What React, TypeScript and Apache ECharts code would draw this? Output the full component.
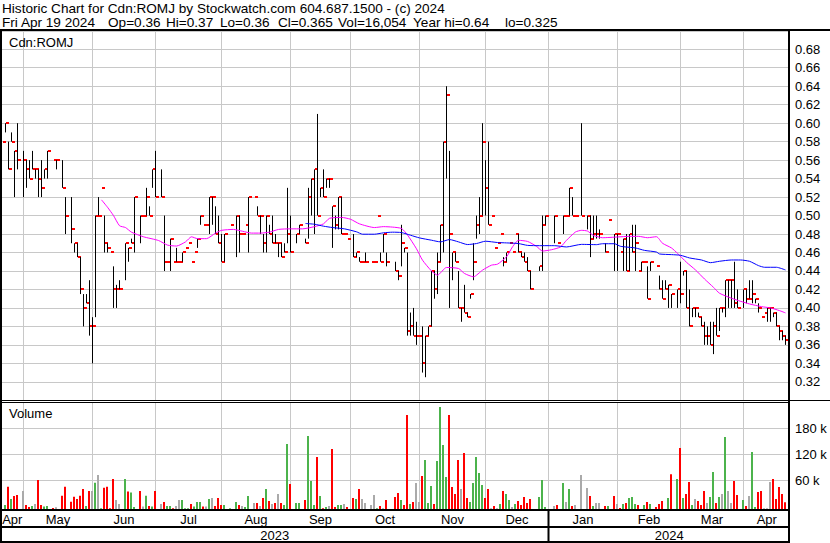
import React, { useEffect, useRef } from "react";
import * as echarts from "echarts";

const FONT = '"Liberation Sans", Arial, sans-serif';

// one slot per weekday, slot 0 = Thu Apr 20 2023, slot 261 = Fri Apr 19 2024
const monthNames = ["Apr", "May", "Jun", "Jul", "Aug", "Sep", "Oct", "Nov", "Dec", "Jan", "Feb", "Mar", "Apr"];
const monthStartSlots = [7, 30, 51, 73, 96, 116, 139, 161, 182, 205, 226, 247];
const yearNames = ["2023", "2024"];
const yearStartSlots = [182];
const SLOT_COUNT = 262;

const highs: (number | null)[] = [
  .58, .60, .58, .59, .57, .60, null, .57, .56, .56,
  .57, .55, .55, .56, .55, .57, null, .56, .56, null,
  .56, .52, null, .52, .47, .47, .455, .415, .415, .43,
  .39, .50, .52, .53, .50, .47, .46, .445, .425, .43,
  null, .47, .465, .475, .52, null, .50, .50, .53, .51,
  .55, .57, null, .55, .50, .45, .475, .45, .465, .45,
  .46, .465, .47, .45, .46, .475, .50, .49, .49, .52,
  .52, .51, .50, .48, .48, null, .49, null, .50, .50,
  .48, .49, .52, null, .52, .51, .50, .48, .50, .49,
  .50, .48, .47, .47, .47, .53, .50, null, .48, .49,
  null, .475, .53, .54, .55, .61, .53, .55, .54, .54,
  .51, .50, .52, .52, .48, .475, null, .48, .46, .455,
  .45, .46, null, .45, .45, .50, .46, .48, .46, null,
  null, .45, .44, .49, .465, .46, .395, .40, .385, .37,
  .38, .37, .38, .44, .44, .46, .49, .58, .64, .57,
  .46, .46, .44, .40, .425, .395, .415, .47, .50, .52,
  .60, .56, .58, .50, .465, .47, .48, .455, .46, .47,
  .46, .48, .48, .46, .46, .455, .44, null, null, .445,
  .50, .50, null, null, .50, .47, null, .50, .50, .53,
  .52, .50, null, .60, null, .50, .50, .50, .50, .485,
  null, .47, .495, null, .48, .48, .46, .475, .48, .48,
  .49, .49, .44, .45, .45, .445, .45, null, .445, .435,
  .43, .43, .425, .415, null, .42, .45, .44, .44, .42,
  .40, .40, .395, .39, .385, .38, .385, .385, .40, .40,
  .40, .43, .43, .43, .45, .42, null, .42, .42, .43,
  .43, .41, .405, .39, .395, .40, .40, .395, .395, .38,
  .375, .37,
];

const lows: (number | null)[] = [
  .58, .59, .55, .58, .52, .55, null, .52, .53, .54,
  .55, .54, .52, .52, .54, .54, null, .56, .55, null,
  .53, .48, null, .47, .46, .455, .415, .38, .405, .37,
  .34, .39, .50, .53, .46, .46, .46, .40, .40, .42,
  null, .43, .45, .47, .46, null, .47, .50, .50, .50,
  .53, .52, null, .52, .44, .45, .44, .45, .45, .45,
  .45, .465, .47, .45, .46, .465, .49, .49, .49, .48,
  .49, .48, .47, .45, .45, null, .49, null, .455, .46,
  .48, .49, .46, null, .52, .50, .48, .46, .46, .48,
  .47, .47, .455, .455, .46, .47, .46, null, .47, .48,
  null, .47, .475, .50, .48, .50, .52, .52, .53, .53,
  .465, .485, .485, .48, .48, .475, null, .455, .455, .45,
  .45, .45, null, .45, .45, .50, .45, .46, .445, null,
  null, .44, .43, .445, .46, .37, .37, .37, .36, .37,
  .33, .325, .37, .38, .41, .415, .45, .46, .54, .40,
  .43, .45, .40, .385, .395, .39, .41, .43, .475, .48,
  .50, .50, .49, .50, .465, .47, .48, .445, .45, .47,
  .46, .48, .46, .455, .45, .44, .42, null, null, .44,
  .44, .49, null, null, .47, .47, null, .48, .50, .50,
  .50, .50, null, .50, null, .485, .455, .475, .475, .475,
  null, .46, .495, null, .44, .44, .46, .44, .44, .44,
  .46, .44, .44, .44, .45, .41, .44, null, .445, .42,
  .41, .42, .40, .40, null, .40, .405, .435, .40, .38,
  .39, .39, .39, .38, .36, .36, .36, .35, .37, .375,
  .395, .39, .40, .40, .40, .40, null, .40, .405, .41,
  .405, .405, .395, .39, .395, .385, .385, .39, .38, .365,
  .365, .36,
];

const closes: (number | null)[] = [
  .58, .60, .55, .58, .57, .56, null, .56, .55, .54,
  .55, .55, .54, .53, .55, .57, null, .56, .56, null,
  .53, .50, null, .485, .47, .455, .42, .40, .405, .38,
  .38, .50, .50, .53, .47, .465, .46, .42, .42, .42,
  null, .47, .465, .47, .52, null, .50, .50, .52, .50,
  .55, .52, null, .52, .45, .45, .475, .45, .45, .45,
  .46, .465, .47, .45, .46, .475, .50, .49, .49, .52,
  .52, .48, .47, .45, .48, null, .49, null, .50, .48,
  .48, .49, .52, null, .52, .50, .50, .47, .50, .48,
  .47, .47, .47, .455, .46, .48, .46, null, .48, .49,
  null, .47, .52, .54, .55, .50, .53, .52, .54, .54,
  .51, .49, .52, .48, .48, .475, null, .455, .46, .45,
  .45, .45, null, .45, .45, .50, .45, .48, .45, null,
  null, .44, .435, .47, .465, .375, .38, .37, .37, .37,
  .34, .37, .38, .44, .42, .45, .49, .58, .63, .48,
  .46, .45, .40, .40, .395, .39, .415, .45, .49, .50,
  .58, .53, .49, .50, .465, .47, .48, .45, .46, .47,
  .46, .48, .46, .455, .45, .44, .42, null, null, .445,
  .49, .50, null, null, .50, .47, null, .50, .50, .53,
  .50, .50, null, .50, null, .50, .475, .48, .48, .48,
  null, .46, .495, null, .48, .48, .46, .475, .44, .48,
  .46, .47, .44, .45, .45, .41, .45, null, .445, .42,
  .41, .42, .425, .415, null, .42, .415, .44, .40, .38,
  .40, .40, .39, .38, .37, .37, .36, .38, .37, .40,
  .40, .43, .43, .43, .405, .40, null, .42, .41, .41,
  .415, .41, .40, .39, .395, .40, .40, .395, .38, .375,
  .37, .365,
];

// daily volume, thousands of shares
const volumes: number[] = [
  0, 10, 52.3, 23.8, 30.8, 33.1, 0, 42.3, 10, 5.4,
  7.7, 12.3, 67.7, 10, 6.2, 7.7, 0, 3.1, 4.6, 0,
  31.5, 52.3, 0, 17.7, 29.2, 23.8, 31.5, 46.9, 7.7, 42.3,
  42.3, 61.5, 79.2, 2.3, 50, 52.3, 2.3, 70, 21.5, 12.3,
  0, 70, 40.8, 38.5, 5.4, 0, 42.3, 6.2, 31.5, 7.7,
  6.2, 42.3, 0, 12.3, 16.9, 7.7, 7.7, 2.3, 7.7, 21.5,
  21.5, 2.3, 2.3, 12.3, 6.2, 16.9, 16.9, 6.2, 6.2, 23.8,
  26.2, 7.7, 26.2, 10, 10, 0, 2.3, 0, 16.9, 10,
  7.7, 5.4, 30.8, 0, 14.6, 14.6, 7.7, 26.2, 46.9, 19.2,
  12.3, 14.6, 35.4, 14.6, 10, 150.8, 58.5, 0, 14.6, 14.6,
  0, 21.5, 169.2, 65.4, 10, 120.8, 30.8, 2.3, 5.4, 7.7,
  139.2, 5.4, 10, 10, 12.3, 5.4, 0, 26.2, 23.8, 46.9,
  23.8, 14.6, 0, 10, 33.1, 2.3, 7.7, 2.3, 21.5, 0,
  0, 28.5, 37.7, 21.5, 10, 217.7, 12.3, 16.9, 60.8, 16.9,
  76.9, 113.8, 14.6, 53.8, 12.3, 111.5, 236.1, 148.5, 74.6, 217.7,
  51.5, 35.4, 113.8, 46.9, 130, 26.2, 16.9, 60.8, 120.8, 83.8,
  56.2, 26.2, 46.9, 2.3, 7.7, 2.3, 12.3, 42.3, 35.4, 21.5,
  5.4, 12.3, 19.2, 10, 28.5, 14.6, 23.8, 0, 0, 28.5,
  67.7, 5.4, 0, 0, 7.7, 10, 0, 60.8, 16.9, 46.9,
  7.7, 10, 0, 79.2, 0, 49.2, 30.8, 7.7, 14.6, 14.6,
  0, 7.7, 7.7, 0, 30.8, 12.3, 3.1, 12.3, 14.6, 26.2,
  28.5, 12.3, 10, 0, 10, 16.9, 12.3, 0, 5.4, 12.3,
  19.2, 0, 26.2, 80.8, 0, 70, 141.5, 26.2, 35.4, 63.1,
  10, 23.8, 19.2, 10, 42.3, 14.6, 28.5, 86.2, 14.6, 28.5,
  35.4, 166.9, 42.3, 14.6, 65.4, 33.1, 0, 21.5, 7.7, 30.8,
  132.3, 5.4, 40, 42.3, 2.3, 2.3, 63.1, 70, 23.8, 51.5,
  35.4, 16.1,
];

// u = up day, d = down day, n = unchanged, - = no trade
const volumeDirection: string[] = (
  "nududd-ndd" + "undduu-dn-" + "dd-dddddud" + "nunuddddnn" + "-uduu-dnud" +
  "ud-nduudnn" + "uuuduuudnu" + "ndddu-u-ud" + "nuu-ndndud" + "ndnduud-uu" +
  "-duuududun" + "dduund-dud" + "nn-nnudnd-" + "-dduddudnn" + "duuuduuuud" +
  "dddndduuuu" + "uddndnuduu" + "nuddddd--u" + "uu--nd-unu" + "dn-n-ndunn" +
  "-du-dndudu" + "uud-udu-dd" + "d-ud-ududd" + "undddnuudu" + "nunndd-udn" +
  "uuddnnnddd" + "dd"
).split("");

// moving averages: [slot, price]
const shortMA: [number, number][] = [
  [33, .517], [35, .509], [37, .500], [39, .489], [41, .487], [43, .482], [47, .477], [52, .473],
  [55, .468], [58, .467], [61, .4715], [63, .477], [65, .475], [68, .475], [71, .481], [73, .484],
  [77, .485], [80, .483], [83, .481], [86, .481], [89, .482], [92, .485], [96, .4856], [100, .4856],
  [104, .488], [107, .491], [109, .497], [113, .498], [116, .496], [119, .491], [124, .487], [127, .488],
  [130, .4875], [133, .486], [135, .479], [138, .464], [140, .4517], [143, .44], [145, .4355], [148, .4438],
  [152, .4427], [154, .4373], [157, .4337], [160, .4409], [163, .4463], [165, .4474], [168, .4553], [170, .4661],
  [172, .4732], [175, .472], [178, .4667], [180, .4616], [183, .463], [186, .466], [188, .4732], [191, .4822],
  [193, .484], [195, .4832], [197, .4785], [200, .476], [205, .4768], [209, .4775], [212, .4775], [215, .476],
  [218, .4771], [220, .47], [223, .4649], [225, .4591], [228, .4494], [231, .4411], [234, .4313], [237, .4223],
  [239, .4159], [243, .4105], [246, .4072], [249, .4043], [253, .4014], [256, .40], [259, .3971], [261, .3946],
];

const longMA: [number, number][] = [
  [101, .4914], [104, .4906], [107, .4885], [110, .487], [114, .4856], [118, .4824], [120, .4798], [124, .4798],
  [127, .4813], [130, .482], [133, .4816], [136, .4787], [139, .4758], [143, .4733], [146, .4715], [149, .474],
  [152, .4715], [155, .4686], [158, .4697], [161, .4722], [165, .4708], [168, .4704], [172, .4697], [175, .4677],
  [179, .4674], [184, .4674], [188, .466], [193, .4688], [198, .4685], [200, .4695], [204, .4695], [206, .4667],
  [211, .4649], [214, .4623], [218, .4605], [219, .4584], [223, .4577], [226, .457], [229, .4541], [233, .4519],
  [236, .449], [239, .4505], [243, .4519], [246, .4519], [249, .4505], [252, .4458], [254, .444], [258, .444],
  [261, .4411],
];

const headerLine1 = "Historic Chart for Cdn:ROMJ by Stockwatch.com 604.687.1500 - (c) 2024";
const headerFields = ["Fri Apr 19 2024", "Op=0.36", "Hi=0.37", "Lo=0.36", "Cl=0.365", "Vol=16,054", "Year hi=0.64", "lo=0.325"];
const symbolLabel = "Cdn:ROMJ";

export default function App() {
  const ref = useRef<HTMLDivElement>(null);

  useEffect(() => {
    document.body.style.margin = "0";
    if (!ref.current) return;
    const chart = echarts.init(ref.current, undefined, { renderer: "svg" });

    const X_MIN = -0.5;
    const X_MAX = SLOT_COUNT + 0.5;
    const VOL_MAX = 247.6;
    const HEADER_SIZE = 13.6;

    const ohlc: number[][] = [];
    for (let i = 0; i < SLOT_COUNT; i++) {
      if (closes[i] != null) ohlc.push([i, highs[i] as number, lows[i] as number, closes[i] as number]);
    }
    const volItems: { slot: number; v: number; dir: string }[] = [];
    for (let i = 0; i < SLOT_COUNT; i++) {
      if (volumes[i] > 0) volItems.push({ slot: i, v: volumes[i], dir: volumeDirection[i] });
    }
    const dirColor: Record<string, string> = { u: "#4cb34c", d: "#ff0000", n: "#aaaaaa", "-": "#aaaaaa" };

    const edges = [X_MIN, ...monthStartSlots, X_MAX];
    const monthLabelData = monthNames.map((n, k) => [(edges[k] + edges[k + 1]) / 2]);
    const yEdges = [X_MIN, ...yearStartSlots, X_MAX];
    const yearLabelData = yearNames.map((n, k) => [(yEdges[k] + yEdges[k + 1]) / 2]);

    const xAxisBase = { type: "value", min: X_MIN, max: X_MAX, show: false };
    const gridColor = "#c8c8c8";

    const option: any = {
      animation: false,
      backgroundColor: "#ffffff",
      grid: [
        { left: 1, right: 40, top: 30.8, height: 369.5 },
        { left: 1, right: 40, top: 402, bottom: 33.7 },
        { left: 1, right: 40, top: 402.3, bottom: 36.7 },
      ],
      xAxis: [
        { ...xAxisBase, gridIndex: 0 },
        { ...xAxisBase, gridIndex: 1 },
        { ...xAxisBase, gridIndex: 2 },
      ],
      yAxis: [
        {
          gridIndex: 0, type: "value", min: 0.3, max: 0.7, interval: 0.02, position: "right",
          axisLine: { show: false }, axisTick: { show: false },
          axisLabel: {
            margin: 5, color: "#000", fontSize: 13, fontFamily: FONT,
            showMinLabel: false, showMaxLabel: false,
            formatter: (v: number) => v.toFixed(2),
          },
          splitLine: { show: true, lineStyle: { color: gridColor, width: 1 } },
        },
        { gridIndex: 1, type: "value", min: 0, max: VOL_MAX, show: false, splitLine: { show: false } },
        {
          gridIndex: 2, type: "value", min: 0, max: 240, interval: 60, position: "right",
          axisLine: { show: false }, axisTick: { show: false },
          axisLabel: {
            margin: 5, color: "#000", fontSize: 13, fontFamily: FONT,
            showMinLabel: false, showMaxLabel: false,
            formatter: (v: number) => `${v} k`,
          },
          splitLine: {
            show: true,
            lineStyle: { color: ["rgba(0,0,0,0)", gridColor, gridColor, gridColor, "rgba(0,0,0,0)"], width: 1 },
          },
        },
      ],
      series: [
        {
          type: "custom", name: "monthGridPrice", xAxisIndex: 0, yAxisIndex: 0, z: 1, silent: true,
          data: monthStartSlots.map((s) => [s]),
          renderItem: (params: any, api: any) => {
            const s = api.value(0);
            const a = api.coord([s, 0.7]);
            const b = api.coord([s, 0.3]);
            return { type: "line", shape: { x1: a[0], y1: a[1], x2: b[0], y2: b[1] }, style: { stroke: gridColor, lineWidth: 1 } };
          },
        },
        {
          type: "custom", name: "monthGridVolume", xAxisIndex: 1, yAxisIndex: 1, z: 1, silent: true,
          data: monthStartSlots.map((s) => [s]),
          renderItem: (params: any, api: any) => {
            const s = api.value(0);
            const a = api.coord([s, VOL_MAX]);
            const b = api.coord([s, 0]);
            return { type: "line", shape: { x1: a[0], y1: a[1], x2: b[0], y2: b[1] }, style: { stroke: gridColor, lineWidth: 1 } };
          },
        },
        {
          type: "custom", name: "price", xAxisIndex: 0, yAxisIndex: 0, z: 3, silent: true,
          data: ohlc,
          renderItem: (params: any, api: any) => {
            const s = api.value(0);
            const pH = api.coord([s, api.value(1)]);
            const pL = api.coord([s, api.value(2)]);
            const pC = api.coord([s, api.value(3)]);
            const x = pH[0];
            const children: any[] = [];
            if (pL[1] - pH[1] >= 0.8) {
              children.push({ type: "line", shape: { x1: x, y1: pH[1], x2: x, y2: pL[1] }, style: { stroke: "#000", lineWidth: 1 } });
            }
            children.push({ type: "rect", shape: { x: x + 0.5, y: Math.round(pC[1]) - 1, width: 3, height: 2 }, style: { fill: "#ff0000" } });
            return { type: "group", children };
          },
        },
        {
          type: "line", name: "MA short", xAxisIndex: 0, yAxisIndex: 0, z: 5, silent: true,
          data: shortMA, showSymbol: false, symbol: "none", smooth: 0.2,
          lineStyle: { color: "#ff00ff", width: 1 },
        },
        {
          type: "line", name: "MA long", xAxisIndex: 0, yAxisIndex: 0, z: 5, silent: true,
          data: longMA, showSymbol: false, symbol: "none", smooth: 0.2,
          lineStyle: { color: "#0000ff", width: 1 },
        },
        {
          type: "custom", name: "volume", xAxisIndex: 1, yAxisIndex: 1, z: 3, silent: true,
          data: volItems.map((d) => [d.slot, d.v]),
          renderItem: (params: any, api: any) => {
            const item = volItems[params.dataIndex];
            const top = api.coord([api.value(0), api.value(1)]);
            const base = api.coord([api.value(0), 0]);
            return {
              type: "rect",
              shape: { x: top[0] - 1.5, y: top[1], width: 2, height: Math.max(1, base[1] - top[1]) },
              style: { fill: dirColor[item.dir] || "#aaaaaa" },
            };
          },
        },
        {
          type: "custom", name: "monthLabels", xAxisIndex: 1, yAxisIndex: 1, z: 6, silent: true,
          data: monthLabelData,
          renderItem: (params: any, api: any) => {
            const p = api.coord([api.value(0), 0]);
            return {
              type: "text", x: p[0], y: p[1] + 10,
              style: { text: monthNames[params.dataIndex], fill: "#000", fontSize: 13, fontFamily: FONT, align: "center", verticalAlign: "middle" },
            };
          },
        },
        {
          type: "custom", name: "yearLabels", xAxisIndex: 1, yAxisIndex: 1, z: 6, silent: true,
          data: yearLabelData,
          renderItem: (params: any, api: any) => {
            const p = api.coord([api.value(0), 0]);
            return {
              type: "text", x: p[0], y: p[1] + 26,
              style: { text: yearNames[params.dataIndex], fill: "#000", fontSize: 13, fontFamily: FONT, align: "center", verticalAlign: "middle" },
            };
          },
        },
        {
          type: "custom", name: "yearSeparator", xAxisIndex: 1, yAxisIndex: 1, z: 6, silent: true,
          data: yearStartSlots.map((s) => [s]),
          renderItem: (params: any, api: any) => {
            const p = api.coord([api.value(0), 0]);
            return { type: "line", shape: { x1: p[0], y1: p[1], x2: p[0], y2: p[1] + 33 }, style: { stroke: "#000", lineWidth: 2 } };
          },
        },
      ],
      graphic: [
        { type: "rect", z: 100, shape: { x: 0, y: 29, width: 830, height: 2 }, style: { fill: "#000" } },
        { type: "rect", z: 100, shape: { x: 0, y: 29, width: 2, height: 514 }, style: { fill: "#000" } },
        { type: "rect", z: 100, shape: { x: 788, y: 29, width: 2, height: 514 }, style: { fill: "#000" } },
        { type: "rect", z: 100, shape: { x: 0, y: 400, width: 830, height: 1 }, style: { fill: "#000" } },
        { type: "rect", z: 100, shape: { x: 0, y: 402, width: 790, height: 1 }, style: { fill: "#000" } },
        { type: "rect", z: 100, shape: { x: 0, y: 509, width: 790, height: 2 }, style: { fill: "#000" } },
        { type: "rect", z: 100, shape: { x: 0, y: 526, width: 790, height: 2 }, style: { fill: "#000" } },
        { type: "rect", z: 100, shape: { x: 0, y: 541, width: 790, height: 2 }, style: { fill: "#000" } },
        {
          type: "text", z: 100, x: 2, y: 8,
          style: { text: headerLine1, fill: "#000", fontSize: HEADER_SIZE, fontFamily: FONT, verticalAlign: "middle", textVerticalAlign: "middle" },
        },
        ...headerFields.map((t, k) => ({
          type: "text", z: 100, x: [2, 108, 166, 220, 278, 338, 413, 505][k], y: 22,
          style: { text: t, fill: "#000", fontSize: HEADER_SIZE, fontFamily: FONT, verticalAlign: "middle", textVerticalAlign: "middle" },
        })),
        {
          type: "text", z: 100, x: 9, y: 42,
          style: { text: symbolLabel, fill: "#000", fontSize: 13, fontFamily: FONT, verticalAlign: "middle", textVerticalAlign: "middle" },
        },
        {
          type: "text", z: 100, x: 9, y: 413,
          style: { text: "Volume", fill: "#000", fontSize: 13, fontFamily: FONT, verticalAlign: "middle", textVerticalAlign: "middle" },
        },
      ],
    };

    chart.setOption(option);
    return () => chart.dispose();
  }, []);

  return <div ref={ref} style={{ position: "absolute", left: 0, top: 0, width: 830, height: 543 }} />;
}
